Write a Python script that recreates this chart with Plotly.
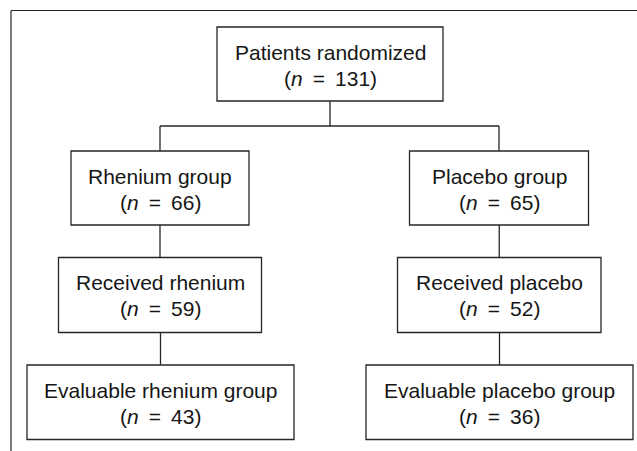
import plotly.graph_objects as go

# ---- data ----
labels = ["Patients randomized", "Rhenium group", "Placebo group",
          "Received rhenium", "Received placebo",
          "Evaluable rhenium group", "Evaluable placebo group"]
n_values = [131, 66, 65, 59, 52, 43, 36]

# ---- layout geometry (pixel space, y downwards) ----
boxes = [  # x0, x1, y0, y1
    (217, 443, 27, 101),
    (71, 249, 151, 225),
    (409.5, 588.5, 151, 225),
    (58.5, 261.5, 257.5, 332.5),
    (397.5, 601, 257.5, 332.5),
    (27, 294, 365, 439.5),
    (366, 633, 365, 439.5),
]
W, H = 637, 451
LINE = "#262626"
TXT = "#161616"
FS = 21

fig = go.Figure()
fig.add_trace(go.Scatter(x=[None], y=[None], showlegend=False, hoverinfo="skip"))

shapes = []
def seg(x0, y0, x1, y1, w=1.3):
    shapes.append(dict(type="line", x0=x0, y0=y0, x1=x1, y1=y1, xref="x", yref="y",
                       line=dict(color=LINE, width=w)))

# outer frame (top and left)
seg(11, 10.5, W, 10.5, 1.2)
seg(11, 10.5, 11, H, 1.2)

for (x0, x1, y0, y1) in boxes:
    shapes.append(dict(type="rect", x0=x0, x1=x1, y0=y0, y1=y1, xref="x", yref="y",
                       line=dict(color=LINE, width=1.3), fillcolor="white"))

# connectors
cx = [(b[0] + b[1]) / 2 for b in boxes]
top = boxes[0]
seg(cx[0], top[3], cx[0], 126)
seg(cx[1], 126, cx[2], 126)
for parent, child in [(0, 1), (0, 2)]:
    seg(cx[child], 126, cx[child], boxes[child][2])
for parent, child in [(1, 3), (2, 4), (3, 5), (4, 6)]:
    seg(cx[child], boxes[parent][3], cx[child], boxes[child][2])

annotations = []
for lab, n, b, c in zip(labels, n_values, boxes, cx):
    y0 = b[2]
    annotations.append(dict(x=c, y=y0 + 25.2, xref="x", yref="y", text=lab,
                            showarrow=False, xanchor="center", yanchor="middle",
                            font=dict(family="Liberation Sans, Arial", size=FS, color=TXT)))
    annotations.append(dict(x=c, y=y0 + 51.2, xref="x", yref="y",
                            text=f"(<i>n</i> \u2009=\u2009 {n})",
                            showarrow=False, xanchor="center", yanchor="middle",
                            font=dict(family="Liberation Sans, Arial", size=FS, color=TXT)))

fig.update_layout(
    width=W, height=H, margin=dict(l=0, r=0, t=0, b=0),
    paper_bgcolor="white", plot_bgcolor="white",
    xaxis=dict(range=[0, W], visible=False, fixedrange=True),
    yaxis=dict(range=[H, 0], visible=False, fixedrange=True),
    shapes=shapes, annotations=annotations, showlegend=False,
)
fig.write_html("out.html", config={"displayModeBar": False},
               post_script="document.body.style.margin='0';document.body.style.overflow='hidden';")
